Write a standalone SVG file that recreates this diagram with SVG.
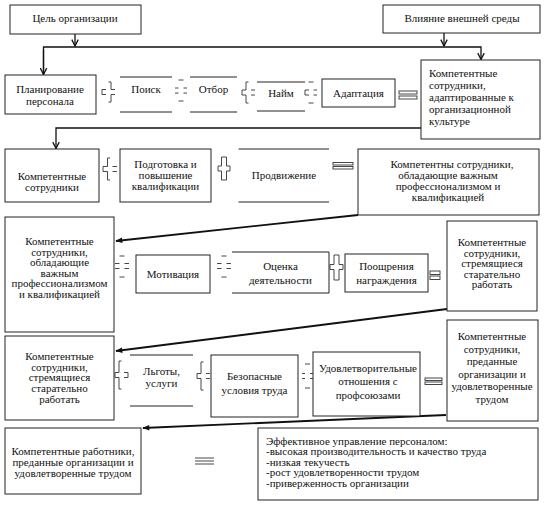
<svg xmlns="http://www.w3.org/2000/svg" width="546" height="505" viewBox="0 0 546 505" font-family="'Liberation Serif', 'Times New Roman', serif">
<defs>
<style>
.box{fill:#fff;stroke:#222;stroke-width:1}
.ln{fill:none;stroke:#222;stroke-width:1}
.op{fill:none;stroke:#333;stroke-width:0.9}
.eq{fill:#fff;stroke:#333;stroke-width:0.9}
.t{font-family:'Liberation Serif','Times New Roman',serif;font-size:11px;fill:#111}
.c{text-anchor:middle}
.conn{fill:none;stroke:#111;stroke-width:1.3}
.diag{fill:none;stroke:#111;stroke-width:1.8}
</style>
<marker id="v" viewBox="0 0 10 10" refX="9" refY="5" markerWidth="8" markerHeight="8" orient="auto" markerUnits="userSpaceOnUse">
<path d="M1,1 L9,5 L1,9" fill="none" stroke="#111" stroke-width="1.6"/>
</marker>
<marker id="tri" viewBox="0 0 10 10" refX="9" refY="5" markerWidth="10" markerHeight="7" orient="auto" markerUnits="userSpaceOnUse">
<path d="M0,1 L10,5 L0,9 z" fill="#111"/>
</marker>
</defs>
<rect width="546" height="505" fill="#fff"/>

<g id="connectors">
<line class="conn" x1="75" y1="34" x2="75" y2="46" marker-end="url(#v)"/>
<line class="conn" x1="444" y1="33" x2="444" y2="46" marker-end="url(#v)"/>
<polyline class="conn" points="43.5,75 43.5,47 481,47 481,59.5" marker-end="url(#v)"/>
<line class="conn" x1="43.5" y1="50" x2="43.5" y2="74.5" marker-end="url(#v)"/>
<polyline class="conn" points="421,128 56,128 56,148.5" marker-end="url(#v)"/>
<line class="diag" x1="358" y1="215" x2="116" y2="241" marker-end="url(#tri)"/>
<line class="diag" x1="447" y1="309" x2="116" y2="351" marker-end="url(#tri)"/>
<line class="diag" x1="446" y1="415" x2="143" y2="428" marker-end="url(#tri)"/>
</g>

<g id="goal"><rect class="box" x="10" y="5" width="131" height="29"/><text class="t c" x="75" y="22">Цель организации</text></g>
<g id="env"><rect class="box" x="383" y="5" width="157" height="28"/><text class="t c" x="462" y="22">Влияние внешней среды</text></g>

<g id="planning"><rect class="box" x="5" y="75" width="91" height="39"/><text class="t c" x="50" y="93">Планирование</text><text class="t c" x="50" y="104.5">персонала</text></g>
<g id="search"><path class="ln" d="M120,77H172M120,112H172"/><text class="t c" x="146" y="93">Поиск</text></g>
<g id="selection"><path class="ln" d="M190,77H237M190,112H237"/><text class="t c" x="213.5" y="93">Отбор</text></g>
<g id="hiring"><path class="ln" d="M257,82H305M257,111H305"/><text class="t c" x="281" y="97">Найм</text></g>
<g id="adaptation"><rect class="box" x="322" y="79" width="73" height="28"/><text class="t c" x="358.5" y="97">Адаптация</text></g>
<g id="adapted"><rect class="box" x="421" y="60" width="119" height="79"/>
<text class="t" x="429" y="77">Компетентные</text><text class="t" x="429" y="89">сотрудники,</text><text class="t" x="429" y="101">адаптированные к</text><text class="t" x="429" y="113">организационной</text><text class="t" x="429" y="125">культуре</text></g>

<g id="competent"><rect class="box" x="5" y="149" width="94" height="53"/><text class="t c" x="52" y="180">Компетентные</text><text class="t c" x="52" y="190.5">сотрудники</text></g>
<g id="training"><rect class="box" x="120" y="149" width="91" height="53"/><text class="t c" x="165.5" y="167.5">Подготовка и</text><text class="t c" x="165.5" y="178.5">повышение</text><text class="t c" x="165.5" y="189.5">квалификации</text></g>
<g id="promotion"><path class="ln" d="M238.5,149H329M238.5,202H329"/><text class="t c" x="284" y="178.5">Продвижение</text></g>
<g id="qualified"><rect class="box" x="358" y="149" width="181" height="66"/><text class="t c" x="452" y="167.5">Компетентны сотрудники,</text><text class="t c" x="448" y="178.5">обладающие важным</text><text class="t c" x="448" y="189.5">профессионализмом и</text><text class="t c" x="448" y="200.5">квалификацией</text></g>

<g id="qualified2"><rect class="box" x="5" y="217" width="109" height="115"/>
<text class="t c" x="59.5" y="245">Компетентные</text><text class="t c" x="59.5" y="255.5">сотрудники,</text><text class="t c" x="59.5" y="266">обладающие</text><text class="t c" x="59.5" y="276.5">важным</text><text class="t c" x="59.5" y="287">профессионализмом</text><text class="t c" x="59.5" y="297.5">и квалификацией</text></g>
<g id="motivation"><rect class="box" x="136" y="255" width="74" height="38"/><text class="t c" x="173" y="278">Мотивация</text></g>
<g id="evaluation"><path class="ln" d="M232,252H329V293H232"/><text class="t c" x="280.5" y="270">Оценка</text><text class="t c" x="280.5" y="283.5">деятельности</text></g>
<g id="rewards"><rect class="box" x="345" y="254" width="83" height="38"/><text class="t c" x="386.5" y="270">Поощрения</text><text class="t c" x="386.5" y="283.5">награждения</text></g>
<g id="diligent"><rect class="box" x="447" y="221" width="90" height="90"/>
<text class="t c" x="492" y="246">Компетентные</text><text class="t c" x="492" y="256.5">сотрудники,</text><text class="t c" x="492" y="267">стремящиеся</text><text class="t c" x="492" y="277.5">старательно</text><text class="t c" x="492" y="288">работать</text></g>

<g id="diligent2"><rect class="box" x="5" y="336" width="109" height="84"/>
<text class="t c" x="59.5" y="360">Компетентные</text><text class="t c" x="59.5" y="370.5">сотрудники,</text><text class="t c" x="59.5" y="381">стремящиеся</text><text class="t c" x="59.5" y="391.5">старательно</text><text class="t c" x="59.5" y="402.5">работать</text></g>
<g id="benefits"><path class="ln" d="M130,355H193M130,406H193"/><text class="t c" x="161.5" y="375">Льготы,</text><text class="t c" x="161.5" y="387">услуги</text></g>
<g id="safety"><rect class="box" x="211" y="355" width="87" height="62"/><text class="t c" x="254.5" y="380">Безопасные</text><text class="t c" x="254.5" y="393.5">условия труда</text></g>
<g id="unions"><rect class="box" x="313" y="352" width="107" height="64"/><text class="t c" x="368" y="372">Удовлетворительные</text><text class="t c" x="368" y="385">отношения с</text><text class="t c" x="368" y="398.5">профсоюзами</text></g>
<g id="devoted"><rect class="box" x="447" y="320" width="91" height="101"/>
<text class="t c" x="492" y="340">Компетентные</text><text class="t c" x="492" y="352.5">сотрудники,</text><text class="t c" x="492" y="365">преданные</text><text class="t c" x="492" y="377.5">организации и</text><text class="t c" x="492" y="390">удовлетворенные</text><text class="t c" x="492" y="402.5">трудом</text></g>

<g id="devoted2"><rect class="box" x="5" y="428" width="136" height="66"/><text class="t c" x="73" y="455">Компетентные работники,</text><text class="t c" x="73" y="466">преданные организации и</text><text class="t c" x="73" y="477">удовлетворенные трудом</text></g>
<g id="result"><rect class="box" x="258" y="428" width="280" height="72"/>
<text class="t" x="266" y="444.5">Эффективное управление персоналом:</text><text class="t" x="266" y="455">-высокая производительность и качество труда</text><text class="t" x="266" y="465.5">-низкая текучесть</text><text class="t" x="266" y="476">-рост удовлетворенности трудом</text><text class="t" x="266" y="486.5">-приверженность организации</text></g>

<g id="operators">
<path class="op" d="M106,89.5H102V94.5H106M108.5,82H111V89.5H115M115,94.5H111V102H108.5"/>
<path class="op" d="M178.5,80H183.5M175,88H178.5M183.5,88H187M175,93H178.5M183.5,93H187M178.5,101H183.5"/>
<path class="op" d="M248.5,82H246V90H242V95H246V103H248.5M251,90H255M251,95H255"/>
<path class="op" d="M308.5,82H313.5M309,90H305V95H309M313.5,90H317M313.5,95H317M308.5,103H313.5"/>
<rect class="eq" x="399" y="91" width="18" height="3"/><rect class="eq" x="399" y="96" width="18" height="3"/>

<path class="op" d="M110,158H107.5V166.5H103V171.5H107.5V180H110M112.5,166.5H117M112.5,171.5H117"/>
<path class="op" d="M221.5,157H226.5V166H230V171H226.5V180H221.5V171H218V166H221.5Z"/>
<rect class="eq" x="333" y="162.5" width="20" height="2.5"/><rect class="eq" x="333" y="166.5" width="20" height="2.5"/>

<path class="op" d="M119.5,256H124.5M115,263.5H119.5M124.5,263.5H129M115,268.5H119.5M124.5,268.5H129M119.5,277H124.5"/>
<path class="op" d="M221.5,256H226.5M217,263.5H221.5M226.5,263.5H231M217,268.5H221.5M226.5,268.5H231M221.5,277H226.5"/>
<path class="op" d="M334,255H339V264.5H343V269.5H339V280H334V269.5H330V264.5H334Z"/>
<rect class="eq" x="430" y="271" width="10" height="3.5"/><rect class="eq" x="430" y="276" width="10" height="3.5"/>

<path class="op" d="M121.5,361H119V372.5H115V377.5H119V389H121.5M124,372.5H128V377.5H124"/>
<path class="op" d="M203.5,362H201V373.5H197V378.5H201V390H203.5M206,373.5H210M206,378.5H210"/>
<path class="op" d="M305,364H310M302,373.5H305M310,373.5H313M302,378.5H305M310,378.5H313M305,388H310"/>
<rect class="eq" x="425" y="378" width="17" height="2.5"/><rect class="eq" x="425" y="382" width="17" height="2.5"/>

<path class="op" d="M195,458H214M195,461H214M195,464H214"/>
</g>
</svg>
